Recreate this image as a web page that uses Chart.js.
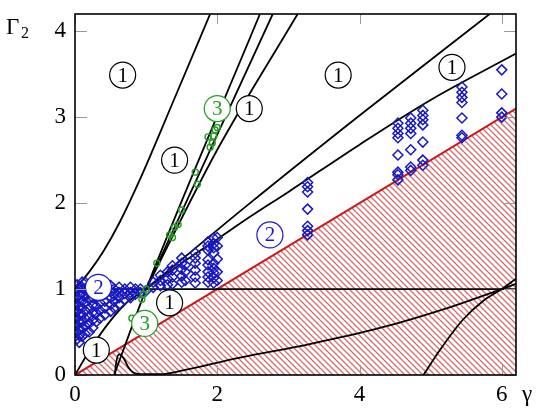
<!DOCTYPE html>
<html>
<head>
<meta charset="utf-8">
<script src="https://cdn.jsdelivr.net/npm/chart.js@4"></script>
<style>
  html, body { margin: 0; padding: 0; background: #fff; }
  #wrap { width: 537px; height: 410px; }
</style>
</head>
<body>
<div id="wrap"><canvas id="c" width="537" height="410"></canvas></div>
<script>
// axis ticks
const xTicks = [0, 2, 4, 6];
const yTicks = [0, 1, 2, 3, 4];

// boundary curves (gamma, Gamma2)
const redLine = [{ x: 0, y: 0 }, { x: 6.2, y: 3.1 }];
const lineOne = [{ x: 0, y: 1 }, { x: 6.2, y: 1 }];
const upperCurve = [
  { x: 0, y: 1 }, { x: 0.2, y: 1.2 }, { x: 0.4, y: 1.44 }, { x: 0.63, y: 1.78 },
  { x: 0.91, y: 2.27 }, { x: 1.4, y: 3.22 }, { x: 1.9, y: 4.2 },
];
const originCurve = [
  { x: 0, y: 0 }, { x: 0.2, y: 0.28 }, { x: 0.45, y: 0.58 }, { x: 0.7, y: 0.82 },
  { x: 1, y: 1 }, { x: 1.5, y: 1.3 }, { x: 2, y: 1.58 }, { x: 2.46, y: 1.84 },
  { x: 3, y: 2.13 }, { x: 4, y: 2.68 }, { x: 5, y: 3.2 }, { x: 6.2, y: 3.74 },
];
const fanCurve = [
  { x: 1, y: 1 }, { x: 2.46, y: 2.0 }, { x: 4, y: 3.02 }, { x: 5.83, y: 4.2 },
];
const steepA = [{ x: 0.55, y: 0 }, { x: 1, y: 1 }, { x: 2.6, y: 4.2 }];
const steepB = [{ x: 1, y: 1 }, { x: 2.78, y: 4.2 }];
const steepC = [{ x: 1, y: 1 }, { x: 2, y: 2.62 }, { x: 3.13, y: 4.2 }];
const lowCurve = [
  { x: 0.56, y: 0 }, { x: 0.58, y: 0.15 }, { x: 0.62, y: 0.24 }, { x: 0.68, y: 0.2 },
  { x: 0.75, y: 0.09 }, { x: 0.82, y: 0.03 }, { x: 0.95, y: 0.01 }, { x: 1.2, y: 0.01 },
  { x: 1.5, y: 0.05 }, { x: 2.3, y: 0.2 }, { x: 3.3, y: 0.36 }, { x: 4.3, y: 0.55 },
  { x: 5.2, y: 0.77 }, { x: 6.0, y: 1.0 }, { x: 6.2, y: 1.06 },
];
const cornerCurve = [
  { x: 4.9, y: 0 }, { x: 5.13, y: 0.29 }, { x: 5.45, y: 0.64 }, { x: 5.75, y: 0.87 },
  { x: 6.0, y: 1.0 }, { x: 6.2, y: 1.12 },
];

// blue diamonds, grouped by column
const diamondX = [
  0.03, 0.06, 0.1, 0.14, 0.2, 0.25, 0.3, 0.35, 0.42, 0.5, 0.55, 0.62, 0.7, 0.78, 0.85, 0.92, 1.0,
  1.1, 1.2, 1.3, 1.37, 1.5, 1.55, 1.69, 1.87, 1.95, 2.0,
  3.27, 4.54, 4.72, 4.89, 5.44, 6.0,
];
const diamondY = [
  [0.42, 0.5, 0.58, 0.66, 0.74, 0.82, 0.9, 0.98, 1.05],
  [0.38, 0.46, 0.54, 0.62, 0.7, 0.78, 0.86, 0.94, 1.02],
  [0.45, 0.55, 0.62, 0.7, 0.78, 0.86, 0.95, 1.02, 1.08],
  [0.48, 0.57, 0.66, 0.75, 0.84, 0.92, 1.0, 1.08],
  [0.5, 0.6, 0.68, 0.78, 0.88, 0.96, 1.04],
  [0.55, 0.64, 0.73, 0.82, 0.9, 1.0],
  [0.62, 0.72, 0.8, 0.9, 0.98, 1.06],
  [0.66, 0.75, 0.84, 0.93, 1.0, 1.07],
  [0.7, 0.78, 0.86, 0.94, 1.0, 1.06],
  [0.74, 0.82, 0.9, 0.97, 1.04],
  [0.78, 0.86, 0.93, 1.0],
  [0.82, 0.9, 0.96, 1.02],
  [0.88, 0.95, 1.0],
  [0.9, 0.96, 1.02],
  [0.94, 1.0],
  [0.96, 1.0],
  [0.98],
  [1.02, 1.08],
  [1.04, 1.1, 1.16],
  [1.05, 1.12, 1.2],
  [1.06, 1.14, 1.22, 1.27],
  [1.08, 1.15, 1.23, 1.3, 1.36],
  [1.1, 1.2, 1.28],
  [1.07, 1.14, 1.22, 1.3, 1.36, 1.42],
  [1.08, 1.14, 1.2, 1.28, 1.34, 1.45, 1.5, 1.55],
  [1.07, 1.13, 1.19, 1.24, 1.3, 1.42, 1.48, 1.53, 1.59],
  [1.1, 1.2, 1.35, 1.5, 1.6],
  [2.24, 2.19, 2.13, 1.93, 1.73, 1.68, 1.63],
  [2.93, 2.87, 2.81, 2.76, 2.56, 2.36, 2.33, 2.27],
  [2.99, 2.93, 2.87, 2.81, 2.62, 2.42, 2.38],
  [3.08, 3.02, 2.97, 2.91, 2.71, 2.5, 2.44],
  [3.35, 3.29, 3.23, 3.17, 2.99, 2.79, 2.76],
  [3.55, 3.27, 3.05, 3.0],
];

// green circles
const greenX = [0.8, 0.94, 0.96, 1.0, 1.15, 1.33, 1.37, 1.4, 1.45, 1.5, 1.69, 1.72, 1.87, 1.9, 1.93, 1.95, 1.97, 2.0];
const greenY = [0.66, 0.88, 0.94, 1.0, 1.3, 1.63, 1.6, 1.72, 1.75, 1.92, 2.36, 2.22, 2.77, 2.65, 2.7, 2.78, 2.85, 2.88];

// circled region labels
const labelX = [0.67, 1.4, 2.45, 3.7, 5.3, 1.33, 0.3, 0.33, 2.74, 2.0, 0.98];
const labelY = [3.49, 2.5, 3.1, 3.49, 3.58, 0.84, 0.29, 1.02, 1.63, 3.1, 0.6];
const labelText = ["1", "1", "1", "1", "1", "1", "1", "2", "2", "3", "3"];
const labelColor = ["#000", "#000", "#000", "#000", "#000", "#000", "#000", "#1a1acc", "#1a1acc", "#22a022", "#22a022"];

const serif = "'Liberation Serif', 'Times New Roman', serif";

const diamonds = [];
diamondX.forEach((x, i) => diamondY[i].forEach((y) => diamonds.push({ x, y })));
const greens = greenX.map((x, i) => ({ x, y: greenY[i] }));

function makeHatch() {
  const s = 6;
  const c = document.createElement("canvas");
  c.width = s;
  c.height = s;
  const g = c.getContext("2d");
  g.strokeStyle = "rgba(200,60,60,0.75)";
  g.lineWidth = 1.3;
  g.beginPath();
  g.moveTo(-1, -1); g.lineTo(s + 1, s + 1);
  g.moveTo(-1, s - 1); g.lineTo(1, s + 1);
  g.moveTo(s - 1, -1); g.lineTo(s + 1, 1);
  g.stroke();
  return g.createPattern(c, "repeat");
}

const black = (data) => ({
  data,
  showLine: true,
  borderColor: "#000",
  borderWidth: 1.8,
  pointRadius: 0,
  cubicInterpolationMode: "monotone",
  fill: false,
  order: 5,
});

const frame = {
  id: "frame",
  afterDatasetsDraw(chart) {
    const { ctx, chartArea: a, scales } = chart;
    const xs = scales.x, ys = scales.y;
    ctx.save();
    // circled labels
    ctx.font = "21px " + serif;
    ctx.textAlign = "center";
    ctx.textBaseline = "middle";
    labelX.forEach((lx, i) => {
      const px = xs.getPixelForValue(lx), py = ys.getPixelForValue(labelY[i]);
      ctx.beginPath();
      ctx.arc(px, py, 13, 0, Math.PI * 2);
      ctx.fillStyle = "#fff";
      ctx.fill();
      ctx.lineWidth = 1.2;
      ctx.strokeStyle = labelColor[i];
      ctx.stroke();
      ctx.fillStyle = labelColor[i];
      ctx.fillText(labelText[i], px, py + 1);
    });
    // inward ticks
    ctx.strokeStyle = "#999";
    ctx.lineWidth = 1;
    ctx.beginPath();
    xTicks.forEach((t) => {
      const px = Math.round(xs.getPixelForValue(t)) + 0.5;
      ctx.moveTo(px, a.bottom); ctx.lineTo(px, a.bottom - 10);
      ctx.moveTo(px, a.top); ctx.lineTo(px, a.top + 10);
    });
    yTicks.forEach((t) => {
      const py = Math.round(ys.getPixelForValue(t)) + 0.5;
      ctx.moveTo(a.left, py); ctx.lineTo(a.left + 12, py);
      ctx.moveTo(a.right, py); ctx.lineTo(a.right - 12, py);
    });
    ctx.stroke();
    // frame
    ctx.strokeStyle = "#000";
    ctx.lineWidth = 1.6;
    ctx.strokeRect(a.left, a.top, a.right - a.left, a.bottom - a.top);
    // tick labels
    ctx.fillStyle = "#000";
    ctx.font = "23px " + serif;
    ctx.textAlign = "center";
    ctx.textBaseline = "middle";
    xTicks.forEach((t) => ctx.fillText(String(t), xs.getPixelForValue(t), a.bottom + 20));
    ctx.textAlign = "right";
    yTicks.forEach((t) => ctx.fillText(String(t), a.left - 9, ys.getPixelForValue(t)));
    // axis titles
    ctx.textAlign = "left";
    ctx.fillText("\u03b3", a.right + 6, a.bottom + 20);
    ctx.fillText("\u0393", 6, 28);
    ctx.font = "16px " + serif;
    ctx.fillText("2", 21, 34);
    ctx.restore();
  },
};

new Chart(document.getElementById("c"), {
  type: "scatter",
  data: {
    datasets: [
      {
        data: redLine,
        showLine: true,
        borderColor: "#cc1a1a",
        borderWidth: 2,
        pointRadius: 0,
        fill: "origin",
        backgroundColor: makeHatch(),
        order: 10,
      },
      black(lineOne),
      black(upperCurve),
      black(originCurve),
      black(fanCurve),
      black(steepA),
      black(steepB),
      black(steepC),
      black(lowCurve),
      black(cornerCurve),
      {
        data: diamonds,
        pointStyle: "rectRot",
        pointRadius: 5,
        borderColor: "#1818c0",
        borderWidth: 1.5,
        backgroundColor: "rgba(0,0,0,0)",
        order: 2,
      },
      {
        data: greens,
        pointStyle: "circle",
        pointRadius: 3,
        borderColor: "#22a022",
        borderWidth: 1.4,
        backgroundColor: "rgba(0,0,0,0)",
        order: 1,
      },
    ],
  },
  options: {
    responsive: false,
    animation: false,
    layout: { padding: { left: 75, right: 21, top: 14, bottom: 35 } },
    scales: {
      x: { type: "linear", min: 0, max: 6.2, display: false },
      y: { type: "linear", min: 0, max: 4.2, display: false },
    },
    plugins: { legend: { display: false }, tooltip: { enabled: false } },
  },
  plugins: [frame],
});
</script>
</body>
</html>
